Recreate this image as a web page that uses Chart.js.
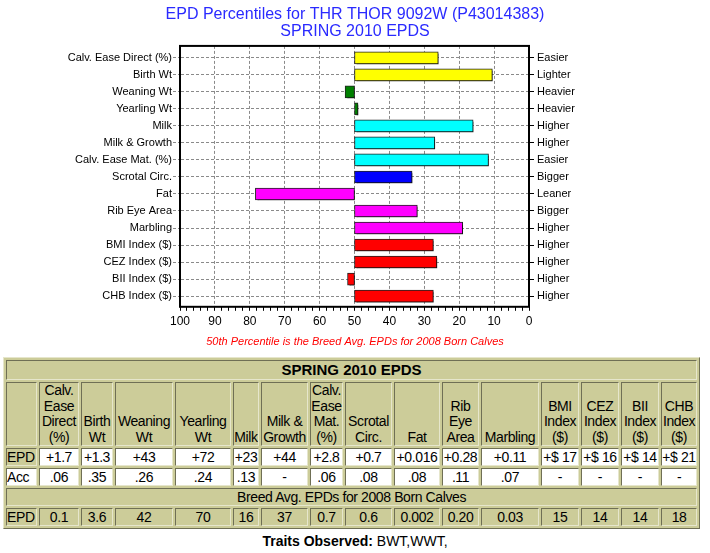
<!DOCTYPE html>
<html>
<head>
<meta charset="utf-8">
<title>EPD Percentiles</title>
<script src="https://cdn.jsdelivr.net/npm/chart.js@4.4.1/dist/chart.umd.min.js"></script>
<style>
  body { margin: 0; background: #fff; font-family: Arial, "Liberation Sans", sans-serif; }
  #wrap { position: relative; width: 710px; height: 352px; }
  table.epd {
    margin: 5px 0 0 3px;
    width: 697px;
    table-layout: fixed;
    border-collapse: separate;
    border-spacing: 2px;
    border: 1px solid;
    border-color: #e6e6cc #6f6f55 #6f6f55 #e6e6cc;
    background: #cccc99;
    font-size: 14px;
    letter-spacing: -0.4px;
  }
  table.epd td {
    border: 1px solid;
    border-color: #6f6f55 #e6e6cc #e6e6cc #6f6f55;
    padding: 0;
    text-align: center;
    line-height: 16px;
    overflow: hidden;
    white-space: nowrap;
  }
  table.epd td.w { background: #fff; }
  table.epd td.lab { text-align: left; }
  table.epd tr.head td { vertical-align: bottom; white-space: normal; line-height: 15.5px; }
  table.epd td.big { font-weight: bold; font-size: 15px; height: 18px; letter-spacing: 0; }
  .traits { text-align: center; font-size: 14px; margin-top: 4px; }
</style>
</head>
<body>
<div id="wrap"><canvas id="epdChart"></canvas></div>
<table class="epd" id="epdTable"></table>
<div class="traits"><b>Traits Observed:</b> BWT,WWT,</div>
<script>
// Traits (left axis) and what a low percentile means (right axis)
const traits = ["Calv. Ease Direct (%)", "Birth Wt", "Weaning Wt", "Yearling Wt", "Milk",
    "Milk & Growth", "Calv. Ease Mat. (%)", "Scrotal Circ.", "Fat", "Rib Eye Area",
    "Marbling", "BMI Index ($)", "CEZ Index ($)", "BII Index ($)", "CHB Index ($)"];
const directions = ["Easier", "Lighter", "Heavier", "Heavier", "Higher", "Higher", "Easier",
    "Bigger", "Leaner", "Bigger", "Higher", "Higher", "Higher", "Higher", "Higher"];
// percentile rank (bars start at the 50th percentile)
const percentiles = [26, 10.5, 52.7, 49, 16, 27, 11.6, 33.5, 78.4, 32, 19, 27.4, 26.4, 52, 27.4];
const barColors = ["#ffff00", "#ffff00", "#008000", "#008000", "#00ffff", "#00ffff", "#00ffff",
    "#0000ff", "#ff00ff", "#ff00ff", "#ff00ff", "#ff0000", "#ff0000", "#ff0000", "#ff0000"];
const baseline = 50;

// table under the chart
const colHeaders = ["Calv. Ease Direct (%)", "Birth Wt", "Weaning Wt", "Yearling Wt", "Milk",
    "Milk &amp; Growth", "Calv. Ease Mat. (%)", "Scrotal Circ.", "Fat", "Rib Eye Area", "Marbling",
    "BMI Index ($)", "CEZ Index ($)", "BII Index ($)", "CHB Index ($)"];
const epdValues = ["+1.7", "+1.3", "+43", "+72", "+23", "+44", "+2.8", "+0.7", "+0.016", "+0.28",
    "+0.11", "+$ 17", "+$ 16", "+$ 14", "+$ 21"];
const accValues = [".06", ".35", ".26", ".24", ".13", "-", ".06", ".08", ".08", ".11", ".07",
    "-", "-", "-", "-"];
const breedAvg = ["0.1", "3.6", "42", "70", "16", "37", "0.7", "0.6", "0.002", "0.20", "0.03",
    "15", "14", "14", "18"];
const colWidths = [31, 40, 32, 58, 56, 26, 47, 33, 47, 46, 37, 58, 38, 38, 38, 36];

function buildTable() {
    const t = document.getElementById('epdTable');
    let html = '<colgroup>';
    colWidths.forEach(w => { html += '<col style="width:' + w + 'px">'; });
    html += '</colgroup>';
    html += '<tr><td class="big" colspan="16">SPRING 2010 EPDS</td></tr>';
    html += '<tr class="head"><td></td>';
    colHeaders.forEach(h => { html += '<td>' + h + '</td>'; });
    html += '</tr><tr><td class="lab">EPD</td>';
    epdValues.forEach(v => { html += '<td class="w">' + v + '</td>'; });
    html += '</tr><tr><td class="lab w">Acc</td>';
    accValues.forEach(v => { html += '<td class="w">' + v + '</td>'; });
    html += '</tr><tr><td colspan="16">Breed Avg. EPDs for 2008 Born Calves</td></tr>';
    html += '<tr><td class="lab">EPD</td>';
    breedAvg.forEach(v => { html += '<td>' + v + '</td>'; });
    html += '</tr>';
    t.innerHTML = html;
}
buildTable();

// bar shadow + plot frame
const frame = {
    id: 'frame',
    beforeDatasetsDraw(chart) {
        const c = chart.ctx;
        c.save();
        c.shadowColor = 'rgba(0,0,0,0.45)';
        c.shadowOffsetX = 2;
        c.shadowOffsetY = 2;
        c.shadowBlur = 0;
    },
    afterDatasetsDraw(chart) {
        chart.ctx.restore();
        const a = chart.chartArea, c = chart.ctx;
        c.save();
        c.strokeStyle = '#000';
        c.lineWidth = 2;
        c.strokeRect(a.left, a.top, a.right - a.left, a.bottom - a.top);
        c.restore();
    }
};

// rows sit on a linear index axis so the first/last rows keep their gap to the frame
const rowMin = -0.7, rowMax = 14.63;

const ctx = document.getElementById('epdChart').getContext('2d');
new Chart(ctx, {
    type: 'bar',
    data: {
        datasets: [{
            data: percentiles.map((p, i) => ({ x: [baseline, p], y: i })),
            backgroundColor: barColors,
            borderColor: '#222',
            borderWidth: 1,
            borderSkipped: false,
            barThickness: 12
        }]
    },
    plugins: [frame],
    options: {
        indexAxis: 'y',
        responsive: true,
        maintainAspectRatio: false,
        animation: false,
        layout: { padding: 0 },
        plugins: {
            legend: { display: false },
            tooltip: { enabled: false },
            title: {
                display: true,
                text: ['EPD Percentiles for THR THOR 9092W (P43014383)', 'SPRING 2010 EPDS'],
                color: '#2a2aff',
                font: { family: 'Arial', size: 16, weight: 'normal', lineHeight: 1.06 },
                padding: { top: 6, bottom: 6 }
            },
            subtitle: {
                display: true,
                position: 'bottom',
                text: '50th Percentile is the Breed Avg. EPDs for 2008 Born Calves',
                color: '#ff0000',
                font: { family: 'Arial', size: 11, style: 'italic' },
                padding: { top: 3, bottom: 3 }
            }
        },
        scales: {
            x: {
                type: 'linear',
                min: 0,
                max: 100,
                reverse: true,
                afterFit: s => { s.height = 26; },
                border: { display: true, color: 'rgba(0,0,0,0)', dash: [3, 2] },
                grid: {
                    color: c => (c.tick && c.tick.value % 10 === 0) ? '#8a8a8a' : 'rgba(0,0,0,0)',
                    tickColor: '#000',
                    tickLength: 4
                },
                ticks: {
                    stepSize: 2,
                    autoSkip: false,
                    maxRotation: 0,
                    padding: 4,
                    color: '#000',
                    font: { family: 'Arial', size: 12 },
                    callback: v => (v % 10 === 0 ? v : '')
                }
            },
            y: {
                type: 'linear',
                position: 'left',
                min: rowMin,
                max: rowMax,
                reverse: true,
                offset: false,
                afterFit: s => { s.width = 180; },
                border: { display: true, color: 'rgba(0,0,0,0)', dash: [3, 2] },
                grid: {
                    offset: false,
                    color: '#8a8a8a',
                    tickLength: 7,
                    tickBorderDash: [3, 2]
                },
                ticks: {
                    stepSize: 1,
                    includeBounds: false,
                    autoSkip: false,
                    padding: 1,
                    color: '#000',
                    font: { family: 'Arial', size: 11 },
                    callback: v => traits[v]
                }
            },
            y2: {
                type: 'linear',
                position: 'right',
                min: rowMin,
                max: rowMax,
                reverse: true,
                offset: false,
                afterFit: s => { s.width = 181; },
                border: { display: true, color: 'rgba(0,0,0,0)' },
                grid: { offset: false, drawOnChartArea: false, color: '#000', tickLength: 5 },
                ticks: {
                    stepSize: 1,
                    includeBounds: false,
                    autoSkip: false,
                    padding: 3,
                    color: '#000',
                    font: { family: 'Arial', size: 11 },
                    callback: v => directions[v]
                }
            }
        }
    }
});
</script>
</body>
</html>
